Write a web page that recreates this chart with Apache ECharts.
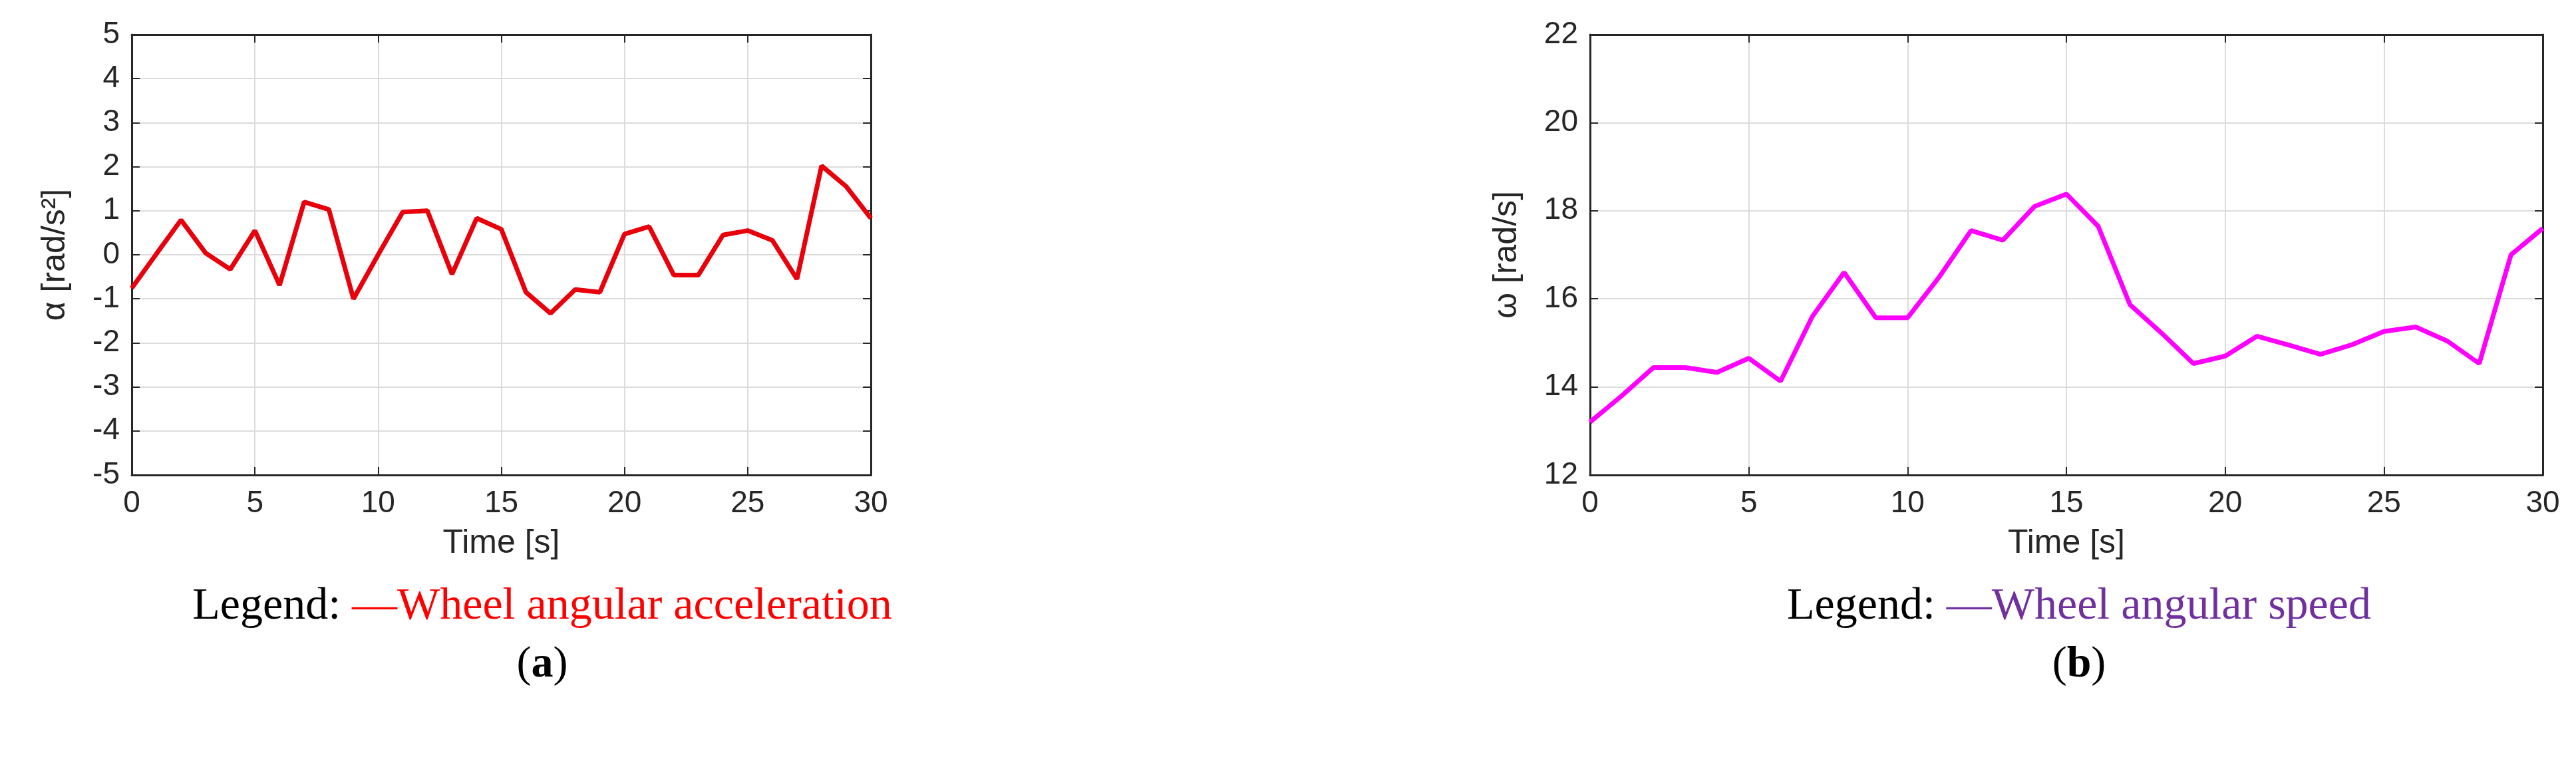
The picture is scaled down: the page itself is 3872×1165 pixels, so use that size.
<!DOCTYPE html>
<html>
<head>
<meta charset="utf-8">
<title>Wheel angular acceleration and speed</title>
<script src="https://cdn.jsdelivr.net/npm/echarts@6/dist/echarts.min.js"></script>
<style>
  html, body { margin: 0; padding: 0; background: #fff; }
  #main { width: 3872px; height: 1165px; }
</style>
</head>
<body>
<div id="main"></div>
<script>
// time axis (s)
var time = [0,1,2,3,4,5,6,7,8,9,10,11,12,13,14,15,16,17,18,19,20,21,22,23,24,25,26,27,28,29,30];
// wheel angular acceleration [rad/s^2]
var accel = [-0.76,0.02,0.79,0.04,-0.33,0.55,-0.69,1.2,1.03,-1.0,0.0,0.97,1.0,-0.44,0.83,0.58,
             -0.85,-1.33,-0.79,-0.85,0.47,0.64,-0.46,-0.46,0.45,0.55,0.33,-0.55,2.02,1.55,0.83];
// wheel angular speed [rad/s]
var speed = [13.2,13.8,14.44,14.44,14.33,14.65,14.13,15.6,16.6,15.57,15.57,16.5,17.55,17.33,18.1,18.38,
             17.65,15.87,15.22,14.53,14.7,15.15,14.95,14.74,14.96,15.26,15.36,15.04,14.53,17.0,17.6];

var chart = echarts.init(document.getElementById('main'));

function pairs(ys) {
    return time.map(function (t, i) { return [t, ys[i]]; });
}

var axisText = { color: '#262626', fontSize: 46, fontFamily: 'Liberation Sans, Arial' };
var nameText = { color: '#262626', fontSize: 50, fontFamily: 'Liberation Sans, Arial' };

function xAxis(idx) {
    return {
        gridIndex: idx, type: 'value', min: 0, max: 30, interval: 5,
        name: 'Time [s]', nameLocation: 'middle', nameGap: 78, nameTextStyle: nameText,
        axisLine: { onZero: false, lineStyle: { color: '#262626', width: 3 } },
        axisTick: { inside: true, length: 12, lineStyle: { color: '#262626', width: 2 } },
        axisLabel: Object.assign({ margin: 20 }, axisText),
        splitLine: { show: true, lineStyle: { color: '#dcdcdc', width: 2 } }
    };
}
function xTop(idx) {
    return {
        gridIndex: idx, type: 'value', min: 0, max: 30, interval: 5, position: 'top',
        axisLine: { onZero: false, lineStyle: { color: '#262626', width: 3 } },
        axisTick: { inside: true, length: 12, lineStyle: { color: '#262626', width: 2 } },
        axisLabel: { show: false }, splitLine: { show: false }
    };
}
function yAxis(idx, min, max, step, name, gap) {
    return {
        gridIndex: idx, type: 'value', min: min, max: max, interval: step,
        name: name, nameLocation: 'middle', nameGap: gap, nameRotate: 90, nameTextStyle: nameText,
        axisLine: { show: true, onZero: false, lineStyle: { color: '#262626', width: 3 } },
        axisTick: { show: true, inside: true, length: 12, lineStyle: { color: '#262626', width: 2 } },
        axisLabel: Object.assign({ margin: 18 }, axisText),
        splitLine: { show: true, lineStyle: { color: '#dcdcdc', width: 2 } }
    };
}
function yRight(idx, min, max, step) {
    return {
        gridIndex: idx, type: 'value', min: min, max: max, interval: step, position: 'right',
        axisLine: { show: true, onZero: false, lineStyle: { color: '#262626', width: 3 } },
        axisTick: { show: true, inside: true, length: 12, lineStyle: { color: '#262626', width: 2 } },
        axisLabel: { show: false }, splitLine: { show: false }
    };
}

function caption(x, label, color) {
    return { type: 'text', x: x, y: 912, style: {
        text: '{k|Legend: }{a|—' + label + '}', align: 'center', verticalAlign: 'middle',
        rich: {
            k: { fontSize: 68, fontFamily: 'Liberation Serif', fill: '#000' },
            a: { fontSize: 68, fontFamily: 'Liberation Serif', fill: color }
        } } };
}
function tag(x, letter) {
    return { type: 'text', x: x, y: 1000, style: {
        text: '({b|' + letter + '})', align: 'center', verticalAlign: 'middle',
        font: '66px Liberation Serif', fill: '#000',
        rich: { b: { fontSize: 66, fontFamily: 'Liberation Serif', fontWeight: 'bold', fill: '#000' } } } };
}

var option = {
    backgroundColor: '#fff',
    animation: false,
    grid: [
        { left: 198, top: 52, width: 1111, height: 662 },
        { left: 2390, top: 52, width: 1432, height: 662 }
    ],
    xAxis: [xAxis(0), xTop(0), xAxis(1), xTop(1)],
    yAxis: [
        yAxis(0, -5, 5, 1, 'α [rad/s²]', 90), yRight(0, -5, 5, 1),
        yAxis(1, 12, 22, 2, 'ω [rad/s]', 100), yRight(1, 12, 22, 2)
    ],
    series: [
        { type: 'line', xAxisIndex: 0, yAxisIndex: 0, data: pairs(accel), showSymbol: false,
          lineStyle: { color: '#e8000b', width: 7 }, itemStyle: { color: '#e8000b' } },
        { type: 'line', xAxisIndex: 2, yAxisIndex: 2, data: pairs(speed), showSymbol: false,
          lineStyle: { color: '#ff00ff', width: 7 }, itemStyle: { color: '#ff00ff' } }
    ],
    graphic: [
        caption(815, 'Wheel angular acceleration', '#ff0000'),
        tag(815, 'a'),
        caption(3125, 'Wheel angular speed', '#7030a0'),
        tag(3125, 'b')
    ]
};

chart.setOption(option);
</script>
</body>
</html>
